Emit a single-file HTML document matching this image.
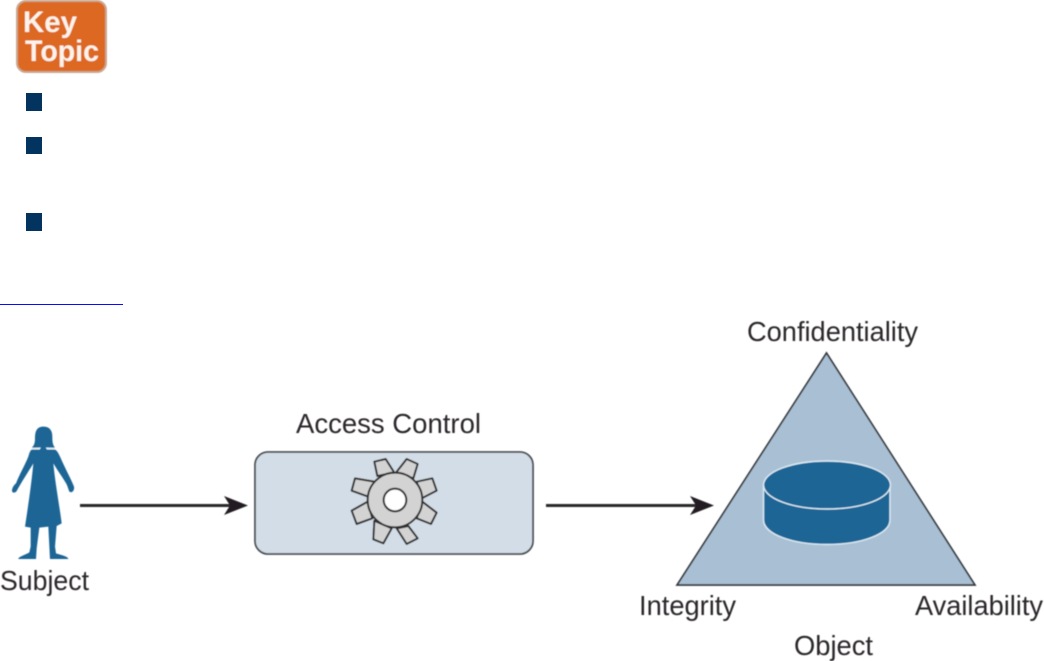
<!DOCTYPE html>
<html><head><meta charset="utf-8"><style>
html,body{margin:0;padding:0;background:#fff;width:1044px;height:661px;overflow:hidden}
svg{display:block}
text{font-family:"Liberation Sans",sans-serif;fill:#2a2829}
</style></head><body>
<svg width="1044" height="661" viewBox="0 0 1044 661" xmlns="http://www.w3.org/2000/svg">
<defs><filter id="b" x="-5%" y="-5%" width="110%" height="110%"><feGaussianBlur stdDeviation="0.45"/></filter>
<filter id="k" x="-5%" y="-5%" width="110%" height="110%"><feGaussianBlur stdDeviation="0.6"/></filter></defs>
<g filter="url(#k)">
<rect x="17" y="1" width="89" height="71" rx="9" fill="#dd6820" stroke="#c9a78e" stroke-width="2"/>
<text x="23" y="32" font-size="30" font-weight="bold" style="fill:#fdf3ea" textLength="54" lengthAdjust="spacingAndGlyphs">Key</text>
<text x="25" y="61" font-size="30" font-weight="bold" style="fill:#fdf3ea" textLength="74" lengthAdjust="spacingAndGlyphs">Topic</text>
</g>
<rect x="26" y="93" width="16" height="18" fill="#03345f"/>
<rect x="26" y="137" width="16" height="17" fill="#03345f"/>
<rect x="26" y="213" width="16" height="18" fill="#03345f"/>
<rect x="0" y="304" width="123" height="1" fill="#0a0aff"/>

<g filter="url(#b)">
<!-- Person -->
<g transform="translate(0,415) scale(0.33333)">
<path fill="#1b6595" d="M130 35 C110 35 105 50 105 70 C105 85 102 92 95 98 L165 98 C158 90 157 80 157 65 C157 48 150 35 130 35 Z"/>
<path fill="#1b6595" d="M95 104 L165 104 C172 108 175 115 180 125 C195 160 212 190 222 215 C224 228 215 235 208 230 C205 222 203 215 200 208 C190 190 175 170 160 145 C165 200 178 270 185 325 L170 333 L165 395 L168 415 C185 420 205 425 205 432 L150 432 L145 335 L118 338 L110 400 L108 432 L55 432 C55 425 75 420 88 412 L92 395 L92 338 L75 335 C85 270 95 200 100 145 C85 170 65 200 50 228 C45 235 35 235 36 225 C38 215 42 210 48 205 C60 175 75 150 85 125 C88 115 90 108 95 104 Z"/>
<rect x="120" y="88" width="20" height="20" fill="#1b6595"/>
<path d="M96 101 L122 99 M138 99 L164 101" stroke="#cfe0ec" stroke-width="3.5" fill="none"/>
</g>

<!-- Arrows -->
<path d="M80 505.5 L232 505.5" stroke="#2b2a2a" stroke-width="3" fill="none"/>
<path d="M248 505.5 L224 496 L230 505.5 L224 515 Z" fill="#231f20"/>
<path d="M546 505.5 L698 505.5" stroke="#2b2a2a" stroke-width="3" fill="none"/>
<path d="M714 505.5 L690 496 L696 505.5 L690 515 Z" fill="#231f20"/>

<!-- Access Control box -->
<rect x="255" y="452" width="278" height="102" rx="13" fill="#d2dde7" stroke="#4a4f53" stroke-width="1.8"/>
<g transform="translate(345,450) scale(0.33333)" fill="#d3d3d3" stroke="#2f2f2f" stroke-width="6" stroke-linejoin="round">
<path d="M97 78 L88 35 L122 27 L148 68 Z"/>
<path d="M153 68 L185 27 L218 42 L205 85 Z"/>
<path d="M215 95 L262 85 L275 122 L230 145 Z"/>
<path d="M232 155 L275 188 L258 222 L215 205 Z"/>
<path d="M190 228 L218 265 L185 282 L155 235 Z"/>
<path d="M140 235 L115 280 L85 268 L88 212 Z"/>
<path d="M82 205 L35 222 L20 182 L68 155 Z"/>
<path d="M70 140 L20 122 L30 85 L88 95 Z"/>
<circle cx="150" cy="150" r="82"/>
<circle cx="150" cy="150" r="34" fill="#fff"/>
</g>

<!-- Triangle -->
<path d="M826.5 353 L975 585 L677 585 Z" fill="#a9bfd3" stroke="#34393e" stroke-width="1.7" stroke-linejoin="miter"/>
<!-- Cylinder -->
<path d="M763.5 485 L763.5 520 C763.5 534 792 544.5 827 544.5 C862 544.5 890 534 890 520 L890 485 Z" fill="#1b6595" stroke="#dcebf4" stroke-width="1.4"/>
<ellipse cx="827" cy="485" rx="63.5" ry="24" fill="#1b6595" stroke="#dcebf4" stroke-width="1.4"/>

<!-- Labels -->
<text x="747" y="341" font-size="27.5" textLength="171" lengthAdjust="spacingAndGlyphs">Confidentiality</text>
<text x="296" y="433" font-size="27.5" textLength="185" lengthAdjust="spacingAndGlyphs">Access Control</text>
<text x="0" y="590" font-size="27.5" textLength="89" lengthAdjust="spacingAndGlyphs">Subject</text>
<text x="639" y="615" font-size="27.5" textLength="97" lengthAdjust="spacingAndGlyphs">Integrity</text>
<text x="915" y="615" font-size="27.5" textLength="128" lengthAdjust="spacingAndGlyphs">Availability</text>
<text x="794" y="655" font-size="27.5" textLength="79" lengthAdjust="spacingAndGlyphs">Object</text>
</g>
</svg>
</body></html>
